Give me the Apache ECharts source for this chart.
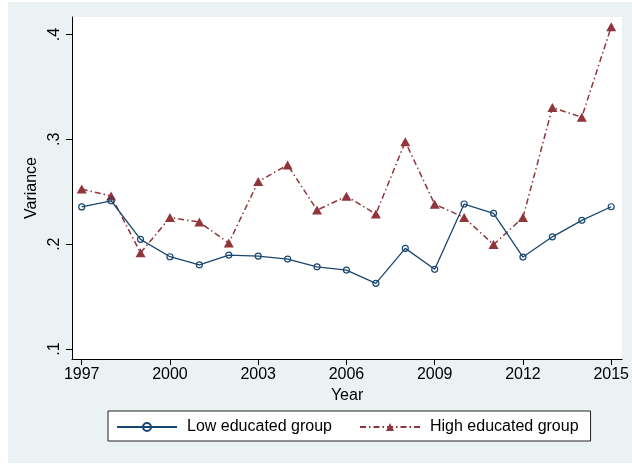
<!DOCTYPE html>
<html>
<head>
<meta charset="utf-8">
<script src="https://cdn.jsdelivr.net/npm/echarts@6/dist/echarts.min.js"></script>
<style>
  html, body { margin: 0; padding: 0; background: #ffffff; }
  #chart { width: 632px; height: 464px; }
</style>
</head>
<body>
<div id="chart"></div>
<script>
// Variance of the two education groups by survey year
const years = [1997, 1998, 1999, 2000, 2001, 2002, 2003, 2004, 2005, 2006,
               2007, 2008, 2009, 2010, 2011, 2012, 2013, 2014, 2015];
const lowEducated = [0.2355, 0.2414, 0.2046, 0.1880, 0.1803, 0.1896, 0.1886, 0.1858, 0.1784, 0.1753,
                     0.1626, 0.1960, 0.1760, 0.2383, 0.2294, 0.1877, 0.2070, 0.2227, 0.2357];
const highEducated = [0.2526, 0.2459, 0.1917, 0.2254, 0.2211, 0.2010, 0.2597, 0.2755, 0.2325, 0.2457,
                      0.2287, 0.2977, 0.2381, 0.2254, 0.1996, 0.2254, 0.3303, 0.3211, 0.4073];
const seriesNames = ['Low educated group', 'High educated group'];
const xTicks = [1997, 2000, 2003, 2006, 2009, 2012, 2015];
const yTicks = [0.1, 0.2, 0.3, 0.4];
const yTickLabels = ['.1', '.2', '.3', '.4'];

const FONT = '"Liberation Sans", Arial, Helvetica, sans-serif';
const NAVY = '#1a476f';
const MAROON = '#90353b';

const chart = echarts.init(document.getElementById('chart'), null, { renderer: 'canvas' });

chart.setOption({
  backgroundColor: '#ffffff',
  animation: false,
  textStyle: { fontFamily: FONT, color: '#000' },
  graphic: [{
    type: 'rect',
    z: -10,
    silent: true,
    shape: { x: 8, y: 2, width: 624, height: 461 },
    style: { fill: '#eaf2f3' }
  }],
  grid: {
    left: 72, right: 5, top: 17, bottom: 105,
    show: true, backgroundColor: '#ffffff', borderWidth: 0
  },
  legend: {
    left: 108, top: 411,
    orient: 'horizontal',
    data: seriesNames,
    itemWidth: 60, itemHeight: 10, itemGap: 27,
    padding: [8, 12, 6, 8],
    backgroundColor: '#ffffff',
    borderColor: '#222',
    borderWidth: 1,
    borderRadius: 0,
    textStyle: { fontFamily: FONT, fontSize: 16, lineHeight: 16, color: '#000', padding: [0, 0, 0, 5] }
  },
  xAxis: {
    type: 'value',
    min: 1996.67, max: 2015.37,
    name: 'Year',
    nameLocation: 'middle',
    nameGap: 25,
    nameTextStyle: { fontFamily: FONT, fontSize: 16, color: '#000' },
    axisLine: { show: true, lineStyle: { color: '#000', width: 1 } },
    axisTick: { show: true, length: 6, customValues: xTicks, lineStyle: { color: '#000' } },
    axisLabel: {
      customValues: xTicks, margin: 8,
      fontFamily: FONT, fontSize: 16, color: '#000',
      formatter: v => String(v)
    },
    splitLine: { show: false }
  },
  yAxis: {
    type: 'value',
    min: 0.09046, max: 0.41669,
    name: 'Variance',
    nameLocation: 'middle',
    nameGap: 27,
    nameTextStyle: { fontFamily: FONT, fontSize: 16, color: '#000' },
    axisLine: { show: true, lineStyle: { color: '#000', width: 1 } },
    axisTick: { show: true, length: 6, customValues: yTicks, lineStyle: { color: '#000' } },
    axisLabel: {
      customValues: yTicks, rotate: 90, margin: 9,
      fontFamily: FONT, fontSize: 16, color: '#000',
      formatter: v => yTickLabels[yTicks.findIndex(t => Math.abs(t - v) < 1e-9)]
    },
    splitLine: { show: false }
  },
  series: [
    {
      name: seriesNames[0],
      type: 'line',
      data: years.map((y, i) => [y, lowEducated[i]]),
      symbol: 'circle',
      symbolSize: 6,
      itemStyle: { color: 'rgba(255,255,255,0)', borderColor: NAVY, borderWidth: 1.2 },
      lineStyle: { color: NAVY, width: 1.3, type: 'solid' },
      z: 3
    },
    {
      name: seriesNames[1],
      type: 'line',
      data: years.map((y, i) => [y, highEducated[i]]),
      symbol: 'triangle',
      symbolSize: [10, 9],
      itemStyle: { color: MAROON, borderWidth: 0 },
      lineStyle: { color: MAROON, width: 1.5, type: [6, 3, 1.5, 3] },
      z: 2
    }
  ]
});
</script>
</body>
</html>
